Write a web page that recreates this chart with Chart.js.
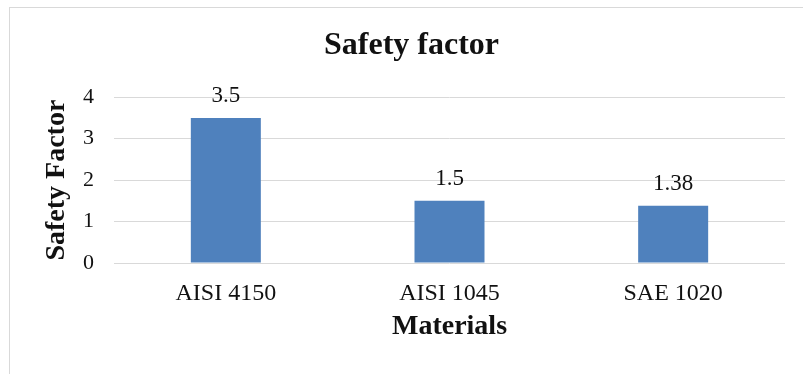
<!DOCTYPE html>
<html>
<head>
<meta charset="utf-8">
<script src="https://cdn.jsdelivr.net/npm/chart.js@4"></script>
<style>
  html, body { margin: 0; padding: 0; background: #fff; overflow: hidden; }
  #frame { position: absolute; left: 9px; top: 7px; width: 900px; height: 500px; border: 1px solid #d9d9d9; }
  #wrap { position: absolute; left: 0; top: 0; width: 803px; height: 374px; }
</style>
</head>
<body>
<div id="frame"></div>
<div id="wrap"><canvas id="chart"></canvas></div>
<script>
const materials = ["AISI 4150", "AISI 1045", "SAE 1020"];
const safetyFactor = [3.5, 1.5, 1.38];
const yTicks = [0, 1, 2, 3, 4];

const serif = "'Liberation Serif', 'Times New Roman', serif";
const ink = "#111";

// value labels above each bar
const barLabels = {
  id: "barLabels",
  afterDatasetsDraw(chart) {
    const ctx = chart.ctx;
    const meta = chart.getDatasetMeta(0);
    ctx.save();
    ctx.font = "23px " + serif;
    ctx.fillStyle = ink;
    ctx.textAlign = "center";
    ctx.textBaseline = "alphabetic";
    meta.data.forEach((bar, i) => {
      ctx.fillText(String(safetyFactor[i]), bar.x, bar.y - 16);
    });
    ctx.restore();
  }
};

const chartCtx = document.getElementById("chart").getContext("2d");

new Chart(chartCtx, {
  type: "bar",
  data: {
    labels: materials,
    datasets: [{
      label: "Safety factor",
      data: safetyFactor,
      backgroundColor: "#4f81bd",
      borderWidth: 0,
      barPercentage: 0.313,
      categoryPercentage: 1
    }]
  },
  options: {
    responsive: true,
    maintainAspectRatio: false,
    animation: false,
    layout: { padding: { left: 20, right: 0, top: 0, bottom: 0 } },
    plugins: {
      legend: { display: false },
      tooltip: { enabled: false },
      title: {
        display: true,
        text: "Safety factor",
        color: ink,
        font: { family: serif, size: 32, weight: "bold" },
        padding: { top: 26.8, bottom: 32 }
      }
    },
    scales: {
      x: {
        grid: { display: false, drawTicks: false },
        border: { display: false },
        ticks: { color: ink, font: { family: serif, size: 24 }, padding: 16, maxRotation: 0 },
        title: {
          display: true,
          text: "Materials",
          color: ink,
          font: { family: serif, size: 28, weight: "bold" },
          padding: { top: 0, bottom: 30.2 }
        },
        afterFit: s => { s.height = 111; }
      },
      y: {
        min: 0,
        max: 4,
        afterBuildTicks: s => { s.ticks = yTicks.map(v => ({ value: v })); },
        grid: { color: "#d9d9d9", lineWidth: 1, drawTicks: false },
        border: { display: false },
        ticks: { color: ink, font: { family: serif, size: 22 }, padding: 20 },
        title: {
          display: true,
          text: "Safety Factor",
          color: ink,
          font: { family: serif, size: 28, weight: "bold" },
          padding: { top: 20, bottom: 0 }
        },
        afterFit: s => { s.width = 94; }
      },
      yr: {
        position: "right",
        grid: { display: false },
        border: { display: false },
        ticks: { display: false },
        afterFit: s => { s.width = 18; }
      }
    }
  },
  plugins: [barLabels]
});
</script>
</body>
</html>
